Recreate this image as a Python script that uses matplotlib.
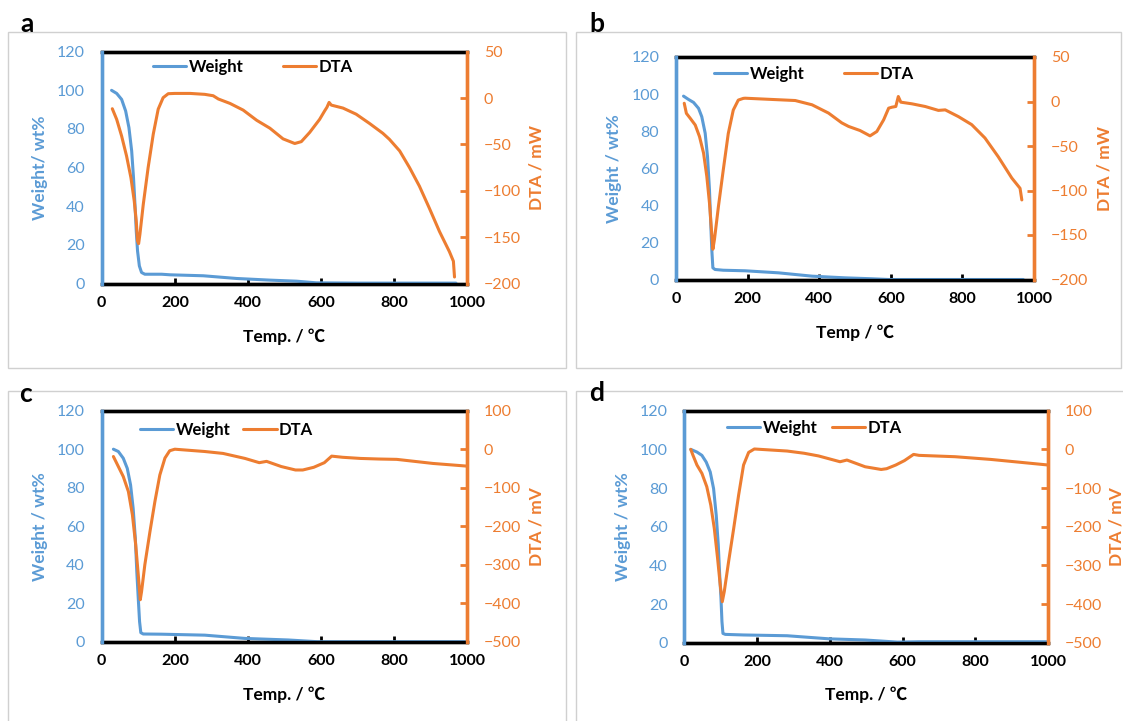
import matplotlib.pyplot as plt
from matplotlib.patches import Rectangle

plt.rcParams['font.family'] = ['Lato', 'Noto Sans CJK SC', 'DejaVu Sans']

BLUE = '#5B9BD5'
ORANGE = '#ED7D31'

# ---- sample a ----
temp_w_a = [27, 41, 54.5, 65.5, 74.5, 82, 87, 91, 94.5, 98, 103, 109, 118, 164, 187,
            278, 369, 460, 533, 587, 700, 969]
weight_a = [100, 98.4, 95.3, 89.3, 80.7, 68.6, 54.8, 41, 27.2, 16.9, 9.1, 5.7, 4.8, 4.8,
            4.5, 4.0, 2.6, 1.75, 1.2, 0.35, 0.2, 0.2]
temp_d_a = [29, 41, 54.5, 68, 80, 89, 94.5, 98, 101, 104.5, 113.6, 127, 141, 154.5, 168,
            182, 200, 242, 282, 305, 319, 351, 387, 424, 460, 496, 528, 546, 569, 596,
            610, 616, 622, 628, 660, 696, 733, 769, 787, 815, 842, 869, 896, 924, 951,
            962, 965]
dta_a = [-11.5, -23, -41, -62.5, -86, -111, -132.5, -154, -157, -147, -115, -75, -39, -12,
         0.4, 4.7, 5, 5, 4, 2.5, -1, -5.8, -13, -24, -32.5, -44, -49, -47, -37, -23,
         -13.7, -10, -4.7, -7.6, -10.8, -17.4, -27.5, -38, -44.5, -57, -75, -95, -118.6,
         -144, -165.6, -176, -193]

# ---- sample b ----
temp_w_b = [21, 35, 49, 63, 72, 81.5, 88, 93.5, 97, 100, 103, 109, 132, 193, 286, 380,
            472, 547, 594, 970]
weight_b = [98.9, 97.1, 95.5, 92.3, 87.8, 78.9, 66.3, 48.4, 30.5, 16.1, 6.3, 5.4, 5.0,
            4.7, 3.6, 1.8, 0.9, 0.4, 0, 0]
temp_d_b = [23, 29, 40, 53.7, 65.7, 77, 86, 93.5, 99, 103, 107.4, 118.5, 132, 146, 160,
            174, 188, 193, 333, 380, 426, 463, 482, 514, 542, 561, 580, 594, 603, 614,
            621, 628, 659, 696, 733, 752, 789, 826, 863, 900, 938, 961, 966]
dta_b = [-2, -13.3, -19, -26.4, -39.5, -58, -84, -114, -144, -166, -155, -118, -77, -36,
         -9.6, 1.6, 3.5, 3.7, 1.1, -3.7, -13, -24, -28, -32.6, -38.6, -33.7, -20.6, -7.5,
         -6.4, -5.6, 5.6, -0.75, -2.6, -5.6, -10, -9.4, -17, -26, -41, -62, -86, -97.5,
         -110.6]

# ---- sample c ----
temp_w_c = [32, 45.5, 59, 70, 79, 86, 92, 96, 100, 103.6, 107, 113.6, 163.6, 282, 392,
            510, 590, 1000]
weight_c = [100, 98.8, 95.3, 90, 81.4, 69.3, 53.7, 36.4, 22.5, 10.4, 4.7, 4.0, 3.9, 3.4,
            1.7, 0.9, 0, 0]
temp_d_c = [32, 45.5, 59, 73, 84, 93, 100, 105.5, 109, 118, 132, 145.5, 159, 173, 186,
            200, 282, 332, 392, 431, 451, 491, 530, 550, 580, 609, 629, 659, 708, 758,
            807, 906, 1000]
dta_c = [-19, -45, -71, -110, -170.5, -248.5, -326, -391, -370, -300, -214, -136, -67,
         -23, -4, 0, -6, -11, -24, -35, -31.6, -45, -54, -54, -47, -35, -18, -21, -24,
         -25.5, -26.4, -37, -44]

# ---- sample d ----
temp_w_d = [18, 35, 48.6, 60.5, 71.5, 80.7, 88, 93.6, 97, 101, 103.7, 106.4, 113, 163,
            282.6, 398, 497, 586, 645, 1000]
weight_d = [100, 98.6, 96.9, 93.4, 88.3, 79.7, 65.9, 50.5, 36.7, 23, 10.9, 4.8, 4.3, 4.0,
            3.6, 2.0, 1.4, 0.3, 0.5, 0.5]
temp_d_d = [18, 24, 35, 48.6, 62, 73, 82.6, 91.7, 99, 104.6, 110, 122, 136, 149.5, 163,
            177, 192.7, 282.6, 329, 369, 428, 447, 497, 541, 556, 581, 605, 630, 645,
            744, 842, 1000]
dta_d = [0, -15, -40.5, -62, -96.5, -144, -204, -282, -351, -394, -368, -290, -204, -118,
         -40.5, -7.8, 1, -4.3, -10, -17, -32, -27.6, -45, -52, -50, -40.5, -29, -13,
         -15.5, -19, -26, -40.5]

x_ticks = [0, 200, 400, 600, 800, 1000]
weight_ticks = [0, 20, 40, 60, 80, 100, 120]

W, H = 1123, 721
fig = plt.figure(figsize=(W / 100, H / 100), dpi=100)


def px(x0, y0, x1, y1):
    # pixel box -> figure fraction rect
    return [x0 / W, 1 - y1 / H, (x1 - x0) / W, (y1 - y0) / H]


panels = [
    dict(letter='a', box=(101.7, 51.7, 467.3, 283.5), frame=(8.3, 32.3, 566, 367.5),
         letter_xy=(27, 24), tw=temp_w_a, w=weight_a, td=temp_d_a, d=dta_a,
         dlim=(-200, 50), dstep=50, wlabel='Weight/ wt%', dlabel='DTA / mW',
         xlabel='Temp. / ℃', wl_x=40, dl_x=537, xl_y=337,
         leg=(146, 67), colsp=2.35),
    dict(letter='b', box=(676, 57, 1034, 279.5), frame=(576, 32.3, 1121, 367.5),
         letter_xy=(597, 24), tw=temp_w_b, w=weight_b, td=temp_d_b, d=dta_b,
         dlim=(-200, 50), dstep=50, wlabel='Weight / wt%', dlabel='DTA / mW',
         xlabel='Temp / ℃', wl_x=614, dl_x=1104, xl_y=333,
         leg=(707, 74), colsp=2.35),
    dict(letter='c', box=(101.7, 410.7, 467.3, 641.7), frame=(8.3, 391, 566, 730),
         letter_xy=(26, 394), tw=temp_w_c, w=weight_c, td=temp_d_c, d=dta_c,
         dlim=(-500, 100), dstep=100, wlabel='Weight / wt%', dlabel='DTA / mV',
         xlabel='Temp. / ℃', wl_x=40, dl_x=537, xl_y=695,
         leg=(133, 430), colsp=0.75),
    dict(letter='d', box=(684.2, 410.7, 1048.3, 642.7), frame=(576, 391, 1130, 730),
         letter_xy=(597, 393), tw=temp_w_d, w=weight_d, td=temp_d_d, d=dta_d,
         dlim=(-500, 100), dstep=100, wlabel='Weight / wt%', dlabel='DTA / mV',
         xlabel='Temp. / ℃', wl_x=623, dl_x=1116, xl_y=695,
         leg=(720, 428), colsp=0.85),
]

for p in panels:
    fx0, fy0, fx1, fy1 = p['frame']
    fig.patches.append(Rectangle((fx0 / W, 1 - fy1 / H), (fx1 - fx0) / W, (fy1 - fy0) / H,
                                 transform=fig.transFigure, fill=False,
                                 edgecolor='#D0D0D0', linewidth=1.0, zorder=0))
    fig.text(p['letter_xy'][0] / W, 1 - p['letter_xy'][1] / H, p['letter'],
             fontsize=19, fontweight='bold', ha='center', va='center')

    ax = fig.add_axes(px(*p['box']))
    ax2 = ax.twinx()

    lw_line, = ax.plot(p['tw'], p['w'], color=BLUE, lw=2.2, label='Weight', zorder=3,
                       solid_joinstyle='round', solid_capstyle='round')
    ld_line, = ax2.plot(p['td'], p['d'], color=ORANGE, lw=2.2, label='DTA', zorder=3,
                        solid_joinstyle='round', solid_capstyle='round')

    ax.set_xlim(0, 1000)
    ax.set_ylim(0, 120)
    ax.set_xticks(x_ticks)
    ax.set_yticks(weight_ticks)
    lo, hi = p['dlim']
    ax2.set_ylim(lo, hi)
    ax2.set_yticks(list(range(lo, hi + 1, p['dstep'])))

    for a in (ax, ax2):
        a.spines['top'].set_color('black')
        a.spines['bottom'].set_color('black')
        a.spines['left'].set_color(BLUE)
        a.spines['right'].set_color(ORANGE)
        for s in a.spines.values():
            s.set_linewidth(2.4)
        a.spines['left'].set_zorder(4)
        a.spines['right'].set_zorder(4)

    ax.tick_params(axis='x', direction='in', length=4, width=2, color='black',
                   labelsize=11.5, pad=9)
    ax.tick_params(axis='y', direction='in', length=0, colors=BLUE,
                   labelsize=11.5, pad=12)
    ax2.tick_params(axis='y', direction='in', length=5, width=2, colors=ORANGE,
                    labelsize=11.5, pad=12)
    for t in ax.get_xticklabels():
        t.set_fontweight('bold')

    x0, y0, x1, y1 = p['box']
    fig.text(p['wl_x'] / W, 1 - (y0 + y1) / 2 / H, p['wlabel'], rotation=90,
             color=BLUE, fontsize=12.5, fontweight='bold', ha='center', va='center')
    fig.text(p['dl_x'] / W, 1 - (y0 + y1) / 2 / H, p['dlabel'], rotation=90,
             color=ORANGE, fontsize=12.5, fontweight='bold', ha='center', va='center')
    fig.text((x0 + x1) / 2 / W, 1 - p['xl_y'] / H, p['xlabel'],
             fontsize=12.5, fontweight='bold', ha='center', va='center')

    lx, ly = p['leg']
    fig.legend(handles=[lw_line, ld_line], loc='center left',
               bbox_to_anchor=(lx / W - 0.007, 1 - ly / H), ncol=2, frameon=False,
               handlelength=2.0, handletextpad=0.15, columnspacing=p['colsp'],
               prop=dict(size=12, weight='bold'))

fig.savefig('out.png', dpi=100)
